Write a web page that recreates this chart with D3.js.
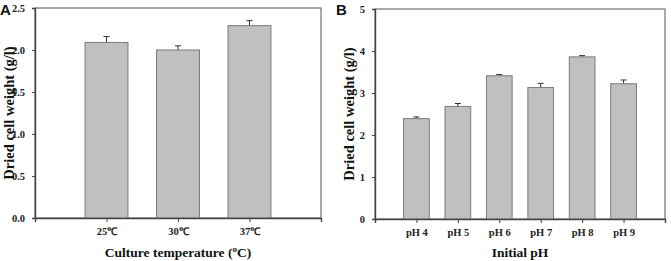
<!DOCTYPE html>
<html lang="en">
<head>
  <meta charset="UTF-8">
  <title>Dried cell weight</title>
  <script src="https://d3js.org/d3.v7.min.js"></script>
  <style>
    body { margin: 0; background: #fff; }
    svg { display: block; }
    .tick text { font-family: "Liberation Serif", serif; font-weight: bold; font-size: 10.5px; fill: #222; }
    .title { font-family: "Liberation Serif", serif; font-weight: bold; font-size: 13.5px; fill: #111; }
    .ytitle { font-size: 14.5px; }
    .panel { font-family: "Liberation Sans", Arial, sans-serif; font-weight: bold; font-size: 15px; fill: #111; }
  </style>
</head>
<body>
<svg id="chart" width="671" height="261"></svg>
<script>
  // panel A: culture temperature
  const tempLabels = ["25\u2103", "30\u2103", "37\u2103"];
  const tempMeans  = [2.09, 2.00, 2.29];
  const tempErrs   = [0.07, 0.05, 0.06];
  const tempTicks  = [0, 0.5, 1.0, 1.5, 2.0, 2.5];

  // panel B: initial pH
  const phLabels = ["pH 4", "pH 5", "pH 6", "pH 7", "pH 8", "pH 9"];
  const phMeans  = [2.39, 2.68, 3.41, 3.13, 3.86, 3.22];
  const phErrs   = [0.04, 0.07, 0.03, 0.10, 0.03, 0.09];
  const phTicks  = [0, 1, 2, 3, 4, 5];

  const svg = d3.select("#chart");

  function drawPanel(opt) {
    const g = svg.append("g");
    const x = d3.scalePoint().domain(opt.labels).range([opt.left, opt.right]).padding(1);
    const y = d3.scaleLinear().domain([0, opt.max]).range([opt.bottom, opt.top]);
    const bw = x.step() * opt.barFrac;

    // frame
    g.append("rect")
      .attr("x", opt.left).attr("y", opt.top)
      .attr("width", opt.right - opt.left).attr("height", opt.bottom - opt.top)
      .attr("fill", "none").attr("stroke", "#555").attr("stroke-width", 1);

    const rows = opt.labels.map((l, i) => ({label: l, v: opt.means[i], e: opt.errs[i]}));

    // error bars (upper only)
    const eb = g.selectAll("g.err").data(rows).enter().append("g").attr("class", "err")
      .attr("stroke", "#333").attr("stroke-width", 1);
    eb.append("line")
      .attr("x1", d => x(d.label)).attr("x2", d => x(d.label))
      .attr("y1", d => y(d.v)).attr("y2", d => y(d.v + d.e));
    eb.append("line")
      .attr("x1", d => x(d.label) - 3).attr("x2", d => x(d.label) + 3)
      .attr("y1", d => y(d.v + d.e)).attr("y2", d => y(d.v + d.e));

    g.selectAll("rect.bar").data(rows).enter().append("rect")
      .attr("class", "bar")
      .attr("x", d => x(d.label) - bw / 2)
      .attr("width", bw)
      .attr("y", d => y(d.v))
      .attr("height", d => y(0) - y(d.v))
      .attr("fill", "#c0c0c0")
      .attr("stroke", "#7a7a7a")
      .attr("stroke-width", 1);

    const xa = g.append("g")
      .attr("transform", `translate(0,${opt.bottom})`)
      .call(d3.axisBottom(x).tickSize(4).tickPadding(6));
    const ya = g.append("g")
      .attr("transform", `translate(${opt.left},0)`)
      .call(d3.axisLeft(y).tickValues(opt.ticks).tickFormat(opt.fmt).tickSize(3).tickPadding(7));
    [xa, ya].forEach(a => {
      a.select(".domain").attr("stroke", "#444").attr("stroke-width", 1.4);
      a.selectAll(".tick line").attr("stroke", "#444");
    });

    // axis titles
    const xt = g.append("text").attr("class", "title")
      .attr("x", (opt.left + opt.right) / 2).attr("y", 257)
      .attr("text-anchor", "middle");
    opt.xTitle(xt);

    g.append("text").attr("class", "title ytitle")
      .attr("transform", `translate(${opt.yTitleX},${(opt.top + opt.bottom) / 2}) rotate(-90)`)
      .attr("text-anchor", "middle")
      .text("Dried cell weight (g/l)");

    g.append("text").attr("class", "panel")
      .attr("x", opt.panelX).attr("y", 15)
      .text(opt.panel);
  }

  drawPanel({
    labels: tempLabels, means: tempMeans, errs: tempErrs, ticks: tempTicks,
    max: 2.5, fmt: d3.format(".1f"),
    left: 35, right: 321, top: 8, bottom: 218, barFrac: 0.6,
    yTitleX: 14, panel: "A", panelX: 0,
    xTitle: t => {
      t.append("tspan").text("Culture temperature (");
      t.append("tspan").attr("dy", -5).attr("font-size", "9px").text("o");
      t.append("tspan").attr("dy", 5).text("C)");
    }
  });

  drawPanel({
    labels: phLabels, means: phMeans, errs: phErrs, ticks: phTicks,
    max: 5, fmt: d3.format("d"),
    left: 375, right: 665, top: 9, bottom: 219, barFrac: 0.62,
    yTitleX: 354, panel: "B", panelX: 336,
    xTitle: t => t.text("Initial pH")
  });
</script>
</body>
</html>
